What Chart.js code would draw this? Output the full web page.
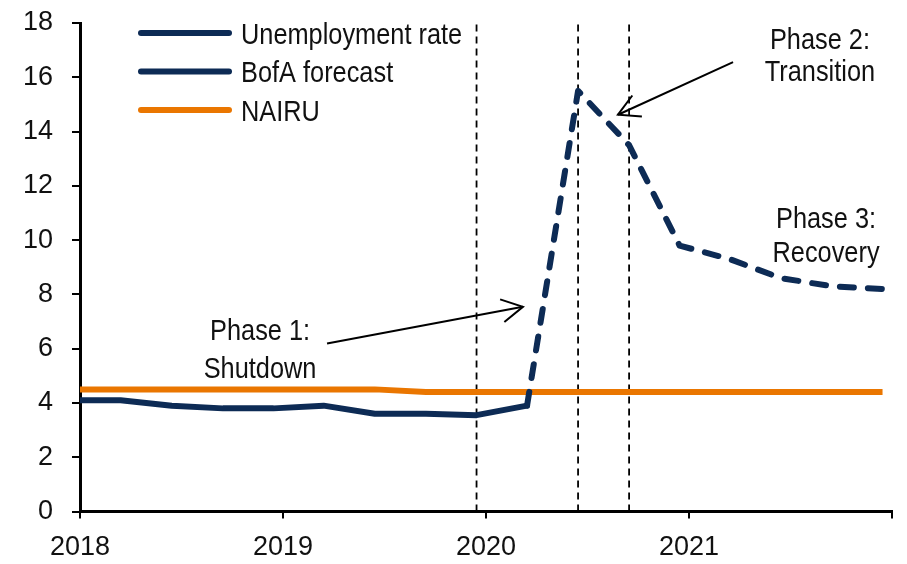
<!DOCTYPE html>
<html><head><meta charset="utf-8">
<script src="https://cdn.jsdelivr.net/npm/chart.js@4.4.1/dist/chart.umd.min.js"></script>
<style>html,body{margin:0;padding:0;background:#fff;} #wrap{width:907px;height:564px;}</style>
</head><body><div id="wrap"><canvas id="c" width="907" height="564"></canvas></div>
<script>
// ---- data ----
const quarterDates = ['2017-12-15','2018-03-15','2018-06-15','2018-09-15','2018-12-15','2019-03-15','2019-06-15','2019-09-15','2019-12-15','2020-03-15'];
const unemploymentRate = [4.1, 4.1, 3.9, 3.8, 3.8, 3.9, 3.6, 3.6, 3.55, 3.9];
const forecastDates = ['2020-03-15','2020-06-15','2020-09-15','2020-12-15','2021-03-15','2021-06-15','2021-09-15','2021-12-15'];
const bofaForecast = [3.9, 15.5, 13.5, 9.8, 9.3, 8.6, 8.3, 8.2];
const nairuDates = quarterDates.concat(forecastDates.slice(1));
const nairu = [4.5, 4.5, 4.5, 4.5, 4.5, 4.5, 4.5, 4.4, 4.4, 4.4, 4.4, 4.4, 4.4, 4.4, 4.4, 4.4, 4.4];
const phaseDates = ['2019-12-15','2020-06-15','2020-09-15'];
const xTickLabels = ['2018','2019','2020','2021',''];
const seriesNames = ['Unemployment rate','BofA forecast','NAIRU'];
const phaseTexts = [['Phase 1:','Shutdown'],['Phase 2:','Transition'],['Phase 3:','Recovery']];

// ---- helpers ----
function toYear(s){
  const [y,m,d] = s.split('-').map(Number);
  const start = Date.UTC(y,0,1), end = Date.UTC(y+1,0,1);
  return y + (Date.UTC(y,m-1,d) - start) / (end - start);
}
const pts = (dates, vals) => dates.map((d,i)=>({x: toYear(d), y: vals[i]}));

const NAVY = '#0D2B55', ORANGE = '#EA7600';
const FONT = '"Liberation Sans", Arial, sans-serif';
const NARROW = 0.845;
Chart.defaults.font.family = FONT;
Chart.defaults.color = '#111';

function narrowText(ctx, t, x, y, align){
  ctx.save();
  ctx.translate(x, y);
  ctx.scale(NARROW, 1);
  ctx.textAlign = align;
  ctx.fillText(t, 0, 0);
  ctx.restore();
}

const vlineSets = phaseDates.map(d => ({
  label: 'phase', data: [{x: toYear(d), y: 0}, {x: toYear(d), y: 18}],
  borderColor: '#000', borderWidth: 1.8, borderDash: [7,5], pointRadius: 0, order: 5
}));

// annotation anchors in data units (year, value)
const annotations = [
  {text: phaseTexts[0], x: 2018.887, y: [6.315, 4.916], arrow: [[2019.217, 6.194],[2020.182, 7.541]]},
  {text: phaseTexts[1], x: 2021.645, y: [17.06, 15.85], arrow: [[2021.217, 16.56],[2020.650, 14.62]]},
  {text: phaseTexts[2], x: 2021.675, y: [10.43, 9.20], arrow: null}
];

const annoPlugin = {
  id: 'anno',
  afterDatasetsDraw(chart){
    const ctx = chart.ctx, xs = chart.scales.x, ys = chart.scales.y;
    ctx.save();
    ctx.fillStyle = '#111';
    ctx.font = '30px ' + FONT;
    ctx.textBaseline = 'alphabetic';
    annotations.forEach(a => {
      a.text.forEach((t,i) => narrowText(ctx, t, xs.getPixelForValue(a.x), ys.getPixelForValue(a.y[i]), 'center'));
      if (a.arrow){
        const x0 = xs.getPixelForValue(a.arrow[0][0]), y0 = ys.getPixelForValue(a.arrow[0][1]);
        const x1 = xs.getPixelForValue(a.arrow[1][0]), y1 = ys.getPixelForValue(a.arrow[1][1]);
        ctx.strokeStyle = '#000'; ctx.lineWidth = 2;
        ctx.beginPath(); ctx.moveTo(x0,y0); ctx.lineTo(x1,y1); ctx.stroke();
        const ang = Math.atan2(y0-y1, x0-x1), L = 24, h = 0.5;
        ctx.beginPath();
        ctx.moveTo(x1 + L*Math.cos(ang+h), y1 + L*Math.sin(ang+h));
        ctx.lineTo(x1, y1);
        ctx.lineTo(x1 + L*Math.cos(ang-h), y1 + L*Math.sin(ang-h));
        ctx.stroke();
      }
    });
    // legend
    const rows = [33, 71.5, 110];
    [0,1,2].forEach(i => {
      const ds = chart.data.datasets[i];
      ctx.strokeStyle = ds.borderColor; ctx.lineWidth = 6; ctx.lineCap = 'round';
      ctx.beginPath(); ctx.moveTo(141, rows[i]); ctx.lineTo(229, rows[i]); ctx.stroke();
      ctx.fillStyle = '#111';
      narrowText(ctx, ds.label, 241, rows[i] + 10.5, 'left');
    });
    ctx.restore();
  }
};

new Chart(document.getElementById('c'), {
  type: 'line',
  data: {
    datasets: [
      {label: seriesNames[0], data: pts(quarterDates, unemploymentRate), borderColor: NAVY, borderWidth: 6,
       pointRadius: 0, borderCapStyle: 'round', borderJoinStyle: 'round', order: 1},
      {label: seriesNames[1], data: pts(forecastDates, bofaForecast), borderColor: NAVY, borderWidth: 6,
       borderDash: [14,14], pointRadius: 0, borderCapStyle: 'round', borderJoinStyle: 'round', order: 2},
      {label: seriesNames[2], data: pts(nairuDates, nairu), borderColor: ORANGE, borderWidth: 6,
       pointRadius: 0, borderCapStyle: 'butt', borderJoinStyle: 'round', order: 3},
      ...vlineSets
    ]
  },
  options: {
    responsive: false, animation: false, devicePixelRatio: 1,
    layout: {autoPadding: false, padding: {top: 23, right: 15, left: 0, bottom: 0}},
    plugins: {legend: {display: false}, tooltip: {enabled: false}},
    elements: {line: {tension: 0}},
    scales: {
      x: {
        type: 'linear', min: 2018, max: 2022,
        afterFit: s => { s.height = 52.5; s.paddingLeft = 0; s.paddingRight = 0; },
        border: {color: '#000', width: 3},
        grid: {drawOnChartArea: false, drawTicks: true, tickLength: 7, color: '#000', lineWidth: 2},
        ticks: {stepSize: 1, padding: 13, font: {size: 27}, color: '#111', maxRotation: 0,
                callback: v => xTickLabels[Math.round(v - 2018)] ?? ''}
      },
      y: {
        min: 0, max: 18,
        afterFit: s => { s.width = 80; s.paddingTop = 0; s.paddingBottom = 0; },
        border: {color: '#000', width: 3},
        grid: {drawOnChartArea: false, drawTicks: true, tickLength: 8, color: '#000', lineWidth: 2},
        ticks: {stepSize: 2, padding: 19, font: {size: 27}, color: '#111'}
      }
    }
  },
  plugins: [annoPlugin]
});
</script></body></html>
